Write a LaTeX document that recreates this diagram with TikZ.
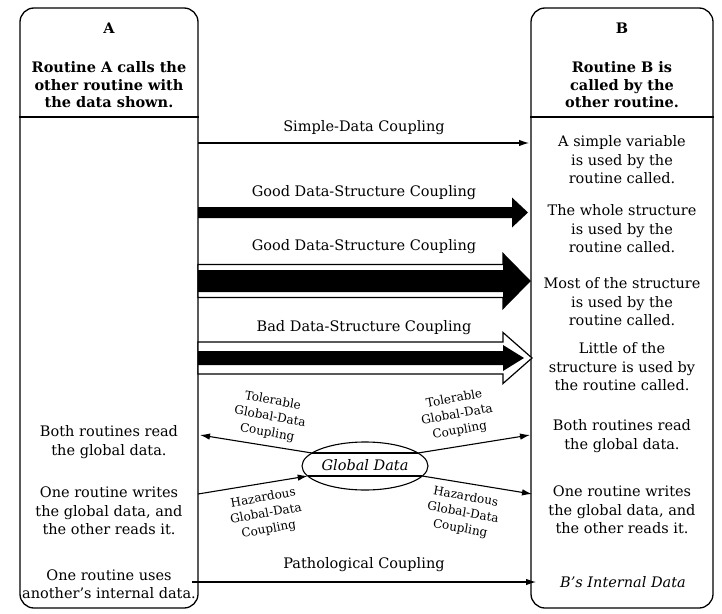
\documentclass[tikz,border=0pt]{standalone}
\usepackage{fontspec}
\setmainfont{DejaVu Serif}
\usetikzlibrary{arrows.meta}

% block arrow from the left routine box: style, y centre, shaft half-height,
% head half-height, x of head base, x of tip
\newcommand\blockarrow[6]{%
  \filldraw[#1] (198,#2-#3) -- (#5,#2-#3) -- (#5,#2-#4) -- (#6,#2)
    -- (#5,#2+#4) -- (#5,#2+#3) -- (198,#2+#3) -- cycle;}

\begin{document}
\begin{tikzpicture}[x=1pt,y=-1pt,
  routinebox/.style={draw, line width=1.3pt, rounded corners=14pt, inner sep=0pt},
  headtext/.style={align=center, inner sep=0pt, font=\fontsize{14.5}{17.5}\selectfont\bfseries},
  body/.style={align=center, inner sep=0pt, font=\fontsize{14.5}{18.5}\selectfont},
  couplabel/.style={inner sep=0pt, font=\fontsize{14.5}{17}\selectfont},
  glabel/.style={align=center, inner sep=0pt, font=\fontsize{12}{16}\selectfont},
  conn/.style={line width=1.1pt, -{Latex[length=10pt,width=6.5pt]}},
  ]
\useasboundingbox (0,0) rectangle (722,613);
\fill[white] (0,0) rectangle (722,613);

% the two routine boxes with their headers
\node[routinebox, minimum width=178pt, minimum height=600pt] (boxA) at (109,308) {};
\node[routinebox, minimum width=182pt, minimum height=600pt] (boxB) at (622,308) {};
\draw[line width=1.3pt] (boxA.west |- 0,117) -- (boxA.east |- 0,117);
\draw[line width=1.3pt] (boxB.west |- 0,117) -- (boxB.east |- 0,117);

\node[headtext] (titleA) at (109,28) {A};
\node[headtext] (descA) at (109,85) {Routine A calls the\\other routine with\\the data shown.};
\node[headtext] (titleB) at (622,28) {B};
\node[headtext] (descB) at (622,85) {Routine B is\\called by the\\other routine.};

% simple-data coupling
\coordinate (simA) at (198,143);
\coordinate (simB) at (529,143);
\draw[conn] (simA) -- (simB);
\node[couplabel] (lsim) at (364,128) {Simple-Data Coupling};

% data-structure couplings
\node[couplabel] (lgood1) at (364,193) {Good Data-Structure Coupling};
\blockarrow{fill=black, draw=none}{212.5}{5.5}{15}{512}{528}

\node[couplabel] (lgood2) at (364,247) {Good Data-Structure Coupling};
\blockarrow{fill=white, draw=black, line width=1.1pt}{281}{16.5}{27.5}{503}{530}
\blockarrow{fill=black, draw=none}{281}{11}{27.5}{503}{530}

\node[couplabel] (lbad) at (364,328) {Bad Data-Structure Coupling};
\blockarrow{fill=white, draw=black, line width=1.2pt}{358}{16}{25.5}{503}{532}
\blockarrow{fill=black, draw=none}{358}{7}{13}{503}{524}

% what routine B does with the data
\node[body] (rb1) at (622,160) {A simple variable\\is used by the\\routine called.};
\node[body] (rb2) at (622,229) {The whole structure\\is used by the\\routine called.};
\node[body] (rb3) at (622,302) {Most of the structure\\is used by the\\routine called.};
\node[body] (rb4) at (622,367) {Little of the\\structure is used by\\the routine called.};
\node[body] (rb5) at (622,436) {Both routines read\\the global data.};
\node[body] (rb6) at (622,510) {One routine writes\\the global data, and\\the other reads it.};
\node[body, font=\fontsize{14.5}{18.5}\selectfont\itshape] (rb7) at (623,582) {B's Internal Data};

% global-data cases on the A side
\node[body] (la1) at (109,442) {Both routines read\\the global data.};
\node[body] (la2) at (109,511) {One routine writes\\the global data, and\\the other reads it.};
\node[body] (la3) at (109,584) {One routine uses\\another's internal data.};

% global data: ellipse crossed by the two coupling lines
\node[inner sep=0pt, font=\fontsize{14.5}{17}\selectfont\itshape] (gd) at (365,465) {Global Data};
\draw[line width=1.1pt] (365,466) ellipse [x radius=63, y radius=24];
\coordinate (gdNW) at (312,453);
\coordinate (gdNE) at (418,453);
\coordinate (gdSW) at (307.7,476);
\coordinate (gdSE) at (422.3,476);
\draw[line width=1.1pt] (gdNW) -- (gdNE);
\draw[line width=1.1pt] (gdSW) -- (gdSE);

\coordinate (tolA) at (200,435);
\coordinate (tolB) at (530,435);
\coordinate (hazA) at (198,494);
\coordinate (hazB) at (532,494);
\draw[conn] (gdNW) -- (tolA);
\draw[conn] (gdNE) -- (tolB);
\draw[conn] (hazA) -- (gdSW);
\draw[conn] (gdSE) -- (hazB);

\node[glabel, rotate=-10] (ltolA) at (270,417) {Tolerable\\Global-Data\\Coupling};
\node[glabel, rotate=10] (ltolB) at (457,415) {Tolerable\\Global-Data\\Coupling};
\node[glabel, rotate=10] (lhazA) at (266,514) {Hazardous\\Global-Data\\Coupling};
\node[glabel, rotate=-10] (lhazB) at (463,513) {Hazardous\\Global-Data\\Coupling};

% pathological coupling
\coordinate (patA) at (192,582);
\coordinate (patB) at (536,582);
\draw[conn] (patA) -- (patB);
\node[couplabel] (lpat) at (364,565) {Pathological Coupling};
\end{tikzpicture}
\end{document}
